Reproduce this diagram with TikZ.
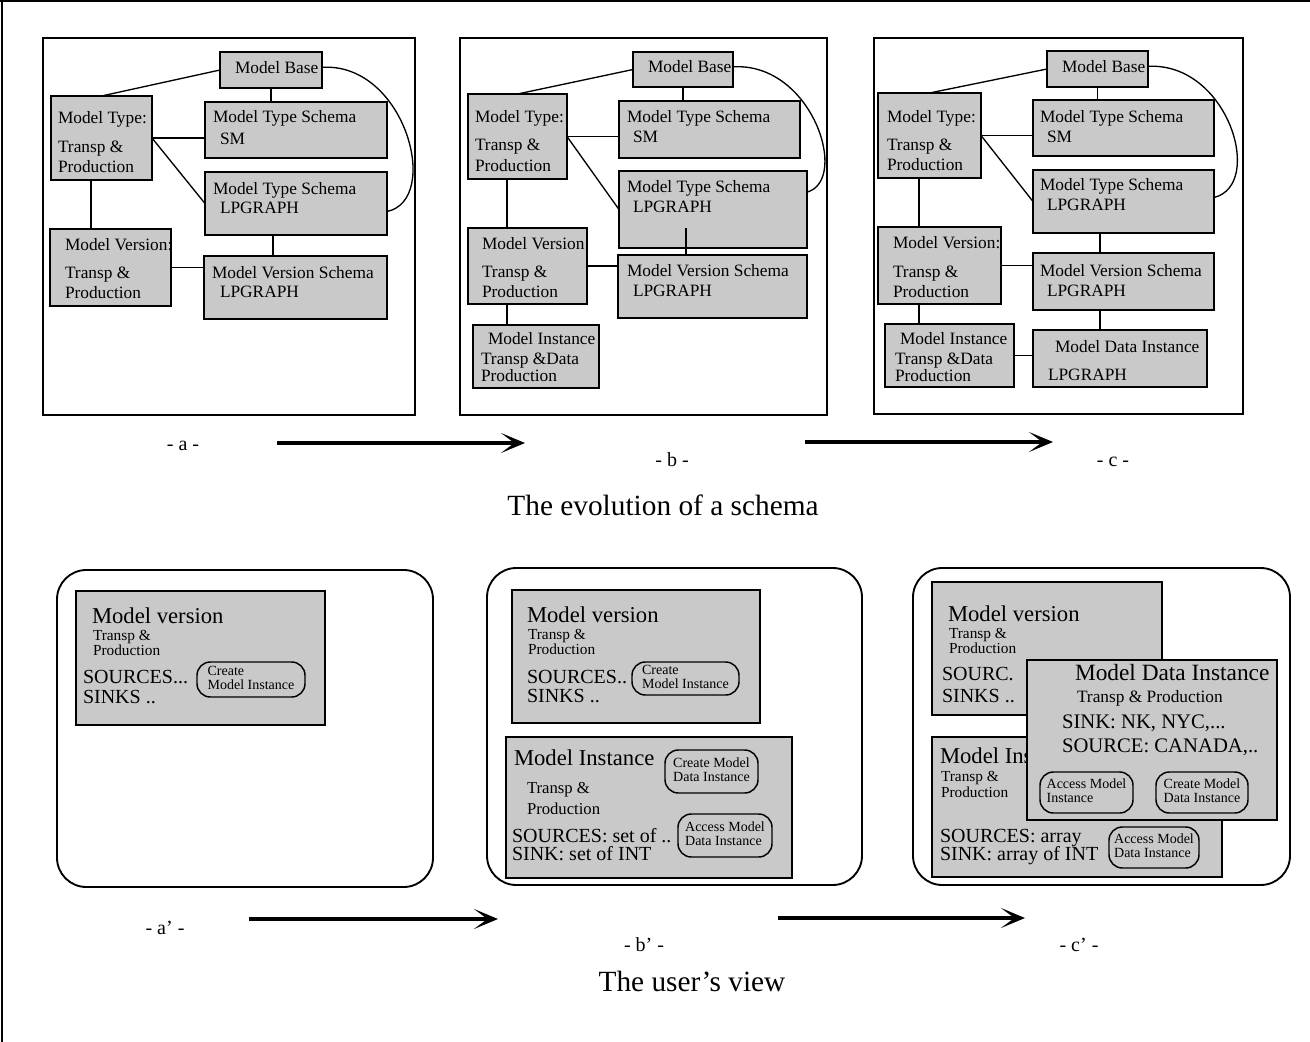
\documentclass[tikz,border=0pt]{standalone}
\usepackage{fontspec}
\setmainfont{Liberation Serif}
\usetikzlibrary{arrows.meta,fit,calc}
\newcommand\fsz[2]{\fontsize{#1pt}{#2pt}\selectfont}
\newcommand\lstack[1]{\begin{tabular}{@{}l@{}}#1\end{tabular}}
\begin{document}
\begin{tikzpicture}[x=0.75pt,y=-0.75pt,
  sbox/.style={draw=black,line width=1.2pt,fill=black!21,inner sep=0pt,outer sep=0pt},
  panel/.style={draw=black,line width=1.1pt,inner sep=0pt,outer sep=0pt},
  rpanel/.style={draw=black,line width=1.4pt,rounded corners=22pt,inner sep=0pt,outer sep=0pt},
  pill/.style={draw=black,line width=1.1pt,rounded corners=10pt,inner sep=0pt,outer sep=0pt},
  ptxt/.style={inner sep=0pt,outer sep=0pt,font=\fsz{10.5}{10.5}},
  conn/.style={line width=1pt},
  tx/.style={anchor=base west,inner sep=0pt,outer sep=0pt},
  ft/.style={tx,font=\fsz{13}{15}},
  fbig/.style={tx,font=\fsz{17}{20}},
  fmid/.style={tx,font=\fsz{11.5}{13}},
  fsrc/.style={tx,font=\fsz{15}{17}},
  lab/.style={inner sep=0pt,font=\fsz{15}{18}},
  ttl/.style={inner sep=0pt,font=\fsz{22}{26}},
  bigarrow/.style={line width=2.4pt,-{Stealth[length=18pt,width=15pt,inset=10pt]}}
]
\useasboundingbox (0,0) rectangle (1310,1042);
\fill[white] (0,0) rectangle (1310,1042);
\draw[line width=1.5pt] (0,1) -- (1310,1);
\draw[line width=1.5pt] (2,0) -- (2,1042);

% ---------------- panel a ----------------
\node[panel,fit={(43,38)(415,415)}] (pa) {};
\node[sbox,fit={(220,52)(322,88)}] (mba) {};
\node[sbox,fit={(51,96)(152,180)}] (mta) {};
\node[sbox,fit={(205,102)(387,158)}] (sma) {};
\node[sbox,fit={(205,172)(387,235)}] (lpa) {};
\node[sbox,fit={(50,229)(171,306)}] (mva) {};
\node[sbox,fit={(204,256)(387,319)}] (mvsa) {};
\coordinate (xa1) at (91,0);
\coordinate (xa2) at (273,0);
\draw[conn] (mba.west) -- (mta.north);
\draw[conn] (mba.south) -- (mba.south |- sma.north);
\draw[conn] (mta.east) -- (mta.east -| sma.west);
\draw[conn] (mta.east) -- (lpa.west);
\draw[conn] ([yshift=2pt]mba.east) .. controls (405,62) and (442,200) .. ([yshift=-6pt]lpa.east);
\draw[conn] (xa1 |- mta.south) -- (xa1 |- mva.north);
\draw[conn] (xa2 |- lpa.south) -- (xa2 |- mvsa.north);
\draw[conn] (mva.east) -- (mva.east -| mvsa.west);
\node[ft] (ta1) at (235,73) {Model Base};
\node[ft] (ta2) at (58,123) {Model Type:};
\node[ft] (ta3) at (58,152) {Transp \&};
\node[ft] (ta4) at (58,172) {Production};
\node[ft] (ta5) at (213,122) {Model Type Schema};
\node[ft] (ta6) at (220,144) {SM};
\node[ft] (ta7) at (213,194) {Model Type Schema};
\node[ft] (ta8) at (220,213) {LPGRAPH};
\node[ft] (ta9) at (65,250) {Model Version:};
\node[ft] (ta10) at (65,278) {Transp \&};
\node[ft] (ta11) at (65,298) {Production};
\node[ft] (ta12) at (212,278) {Model Version Schema};
\node[ft] (ta13) at (220,297) {LPGRAPH};

% ---------------- panel b ----------------
\node[panel,fit={(460,38)(827,415)}] (pb) {};
\node[sbox,fit={(633,52)(733,87)}] (mbb) {};
\node[sbox,fit={(468,94)(567,179)}] (mtb) {};
\node[sbox,fit={(619,101)(800,158)}] (smb) {};
\node[sbox,fit={(619,171)(807,248)}] (lpb) {};
\node[sbox,fit={(468,228)(587,304)}] (mvb) {};
\node[sbox,fit={(618,255)(807,318)}] (mvsb) {};
\node[sbox,fit={(473,325)(599,388)}] (mib) {};
\coordinate (xb1) at (507,0);
\coordinate (xb2) at (686,0);
\coordinate (yb2) at (0,228);
\draw[conn] (mbb.west) -- (mtb.north);
\draw[conn] (mbb.south) -- (mbb.south |- smb.north);
\draw[conn] (mtb.east) -- (mtb.east -| smb.west);
\draw[conn] (mtb.east) -- (lpb.west);
\draw[conn] ([yshift=2pt]mbb.east) .. controls (812,62) and (850,180) .. ([yshift=13pt]lpb.east);
\draw[conn] (xb1 |- mtb.south) -- (xb1 |- mvb.north);
\draw[conn] (xb2 |- mvsb.north) -- (xb2 |- yb2);
\draw[conn] (mvb.east) -- (mvb.east -| mvsb.west);
\draw[conn] (xb1 |- mvb.south) -- (xb1 |- mib.north);
\node[ft] (tb1) at (648,72) {Model Base};
\node[ft] (tb2) at (475,122) {Model Type:};
\node[ft] (tb3) at (475,150) {Transp \&};
\node[ft] (tb4) at (475,171) {Production};
\node[ft] (tb5) at (627,122) {Model Type Schema};
\node[ft] (tb6) at (633,142) {SM};
\node[ft] (tb7) at (627,192) {Model Type Schema};
\node[ft] (tb8) at (633,212) {LPGRAPH};
\node[ft] (tb9) at (482,249) {Model Version:};
\node[ft] (tb10) at (482,277) {Transp \&};
\node[ft] (tb11) at (482,297) {Production};
\node[ft] (tb12) at (627,276) {Model Version Schema};
\node[ft] (tb13) at (633,296) {LPGRAPH};
\node[ft] (tb14) at (488,344) {Model Instance};
\node[ft] (tb15) at (481,364) {Transp \&Data};
\node[ft] (tb16) at (481,381) {Production};

% ---------------- panel c ----------------
\node[panel,fit={(874,38)(1243,414)}] (pc) {};
\node[sbox,fit={(1047,51)(1148,87)}] (mbc) {};
\node[sbox,fit={(878,93)(981,178)}] (mtc) {};
\node[sbox,fit={(1033,100)(1214,156)}] (smc) {};
\node[sbox,fit={(1033,170)(1214,233)}] (lpc) {};
\node[sbox,fit={(878,227)(1001,304)}] (mvc) {};
\node[sbox,fit={(1033,253)(1214,310)}] (mvsc) {};
\node[sbox,fit={(885,324)(1014,387)}] (mic) {};
\node[sbox,fit={(1033,330)(1207,387)}] (mdic) {};
\coordinate (xc1) at (919,0);
\coordinate (xc2) at (1100,0);
\draw[conn] (mbc.west) -- (mtc.north);
\draw[conn] (mbc.south) -- (mbc.south |- smc.north);
\draw[conn] (mtc.east) -- (mtc.east -| smc.west);
\draw[conn] (mtc.east) -- (lpc.west);
\draw[conn] ([yshift=2pt]mbc.east) .. controls (1228,62) and (1265,185) .. ([yshift=3pt]lpc.east);
\draw[conn] (xc1 |- mtc.south) -- (xc1 |- mvc.north);
\draw[conn] (xc2 |- lpc.south) -- (xc2 |- mvsc.north);
\draw[conn] (mvc.east) -- (mvc.east -| mvsc.west);
\draw[conn] (xc1 |- mvc.south) -- (xc1 |- mic.north);
\draw[conn] (xc2 |- mvsc.south) -- (xc2 |- mdic.north);
\draw[conn] (mic.east) -- (mic.east -| mdic.west);
\node[ft] (tc1) at (1062,72) {Model Base};
\node[ft] (tc2) at (887,122) {Model Type:};
\node[ft] (tc3) at (887,150) {Transp \&};
\node[ft] (tc4) at (887,170) {Production};
\node[ft] (tc5) at (1040,122) {Model Type Schema};
\node[ft] (tc6) at (1047,142) {SM};
\node[ft] (tc7) at (1040,190) {Model Type Schema};
\node[ft] (tc8) at (1047,210) {LPGRAPH};
\node[ft] (tc9) at (893,248) {Model Version:};
\node[ft] (tc10) at (893,277) {Transp \&};
\node[ft] (tc11) at (893,297) {Production};
\node[ft] (tc12) at (1040,276) {Model Version Schema};
\node[ft] (tc13) at (1047,296) {LPGRAPH};
\node[ft] (tc14) at (900,344) {Model Instance};
\node[ft] (tc15) at (895,364) {Transp \&Data};
\node[ft] (tc16) at (895,381) {Production};
\node[ft] (tc17) at (1055,352) {Model Data Instance};
\node[ft] (tc18) at (1048,380) {LPGRAPH};

% ---------------- labels and arrows (top) ----------------
\node[lab] (la) at (183,446) {- a -};
\node[lab] (lb) at (672,460) {- b -};
\node[lab] (lc) at (1113,462) {- c -};
\coordinate (ar1s) at (277,443);
\coordinate (ar1e) at (525,443);
\coordinate (ar2s) at (805,442);
\coordinate (ar2e) at (1053,442);
\draw[bigarrow] (ar1s) -- (ar1e);
\draw[bigarrow] (ar2s) -- (ar2e);
\node[ttl] (title1) at (663,505) {The evolution of a schema};

% ---------------- panel a' ----------------
\node[rpanel,fit={(57,570)(433,887)}] (pa2) {};
\node[sbox,fit={(76,591)(325,725)}] (mvA) {};
\node[fbig] (uA1) at (92,623) {Model version};
\node[fmid] (uA2) at (93,640) {Transp \&};
\node[fmid] (uA3) at (93,655) {Production};
\node[fsrc] (uA4) at (83,683) {SOURCES...};
\node[fsrc] (uA5) at (83,703) {SINKS ..};
\node[pill,fit={(197,662)(305,697)}] (pA1) {};
\node[ptxt] (pA1t) at (pA1.center) {\lstack{Create\\Model Instance}};

% ---------------- panel b' ----------------
\node[rpanel,fit={(487,568)(862,885)}] (pb2) {};
\node[sbox,fit={(512,590)(760,723)}] (mvB) {};
\node[fbig] (uB1) at (527,622) {Model version};
\node[fmid] (uB2) at (528,639) {Transp \&};
\node[fmid] (uB3) at (528,654) {Production};
\node[fsrc] (uB4) at (527,683) {SOURCES..};
\node[fsrc] (uB5) at (527,702) {SINKS ..};
\node[pill,fit={(632,662)(739,695)}] (pB1) {};
\node[ptxt] (pB1t) at (pB1.center) {\lstack{Create\\Model Instance}};
\node[sbox,fit={(506,737)(792,878)}] (miB) {};
\node[fbig] (uB6) at (514,765) {Model Instance};
\node[tx,font=\fsz{12.5}{14}] (uB7) at (527,793) {Transp \&};
\node[tx,font=\fsz{12.5}{14}] (uB8) at (527,814) {Production};
\node[fsrc] (uB9) at (512,842) {SOURCES: set of ..};
\node[fsrc] (uB10) at (512,860) {SINK: set of INT};
\node[pill,fit={(665,750)(758,793)}] (pB2) {};
\node[ptxt] (pB2t) at (pB2.center) {\lstack{Create Model\\Data Instance}};
\node[pill,fit={(678,814)(772,857)}] (pB3) {};
\node[ptxt] (pB3t) at (pB3.center) {\lstack{Access Model\\Data Instance}};

% ---------------- panel c' ----------------
\node[rpanel,fit={(913,568)(1290,885)}] (pc2) {};
\node[sbox,fit={(932,582)(1162,715)}] (mvC) {};
\node[fbig] (uC1) at (948,621) {Model version};
\node[fmid] (uC2) at (949,638) {Transp \&};
\node[fmid] (uC3) at (949,653) {Production};
\node[fsrc] (uC4) at (942,680) {SOURC.};
\node[fsrc] (uC5) at (942,702) {SINKS ..};
\node[sbox,fit={(932,737)(1222,877)}] (miC) {};
\node[fbig] (uC6) at (940,763) {Model Instance};
\node[fmid] (uC7) at (941,781) {Transp \&};
\node[fmid] (uC8) at (941,797) {Production};
\node[fsrc] (uC9) at (940,842) {SOURCES: array};
\node[fsrc] (uC10) at (940,860) {SINK: array of INT};
\node[pill,fit={(1109,827)(1199,868)}] (pC1) {};
\node[ptxt] (pC1t) at (pC1.center) {\lstack{Access Model\\Data Instance}};
\node[sbox,fit={(1027,660)(1277,820)}] (mdiC) {};
\node[tx,font=\fsz{17.5}{20}] (uC11) at (1075,680) {Model Data Instance};
\node[tx,font=\fsz{13}{15}] (uC12) at (1077,702) {Transp \& Production};
\node[tx,font=\fsz{15.5}{18}] (uC13) at (1062,728) {SINK: NK, NYC,...};
\node[tx,font=\fsz{15.5}{18}] (uC14) at (1062,752) {SOURCE: CANADA,..};
\node[pill,fit={(1040,772)(1133,813)}] (pC2) {};
\node[ptxt] (pC2t) at (pC2.center) {\lstack{Access Model\\Instance}};
\node[pill,fit={(1156,772)(1248,813)}] (pC3) {};
\node[ptxt] (pC3t) at (pC3.center) {\lstack{Create Model\\Data Instance}};

% ---------------- labels and arrows (bottom) ----------------
\node[lab] (la2) at (165,928) {- a' -};
\node[lab] (lb2) at (644,945) {- b' -};
\node[lab] (lc2) at (1079,945) {- c' -};
\coordinate (br1s) at (249,919);
\coordinate (br1e) at (498,919);
\coordinate (br2s) at (778,918);
\coordinate (br2e) at (1025,918);
\draw[bigarrow] (br1s) -- (br1e);
\draw[bigarrow] (br2s) -- (br2e);
\node[ttl] (title2) at (692,981) {The user’s view};
\end{tikzpicture}
\end{document}
